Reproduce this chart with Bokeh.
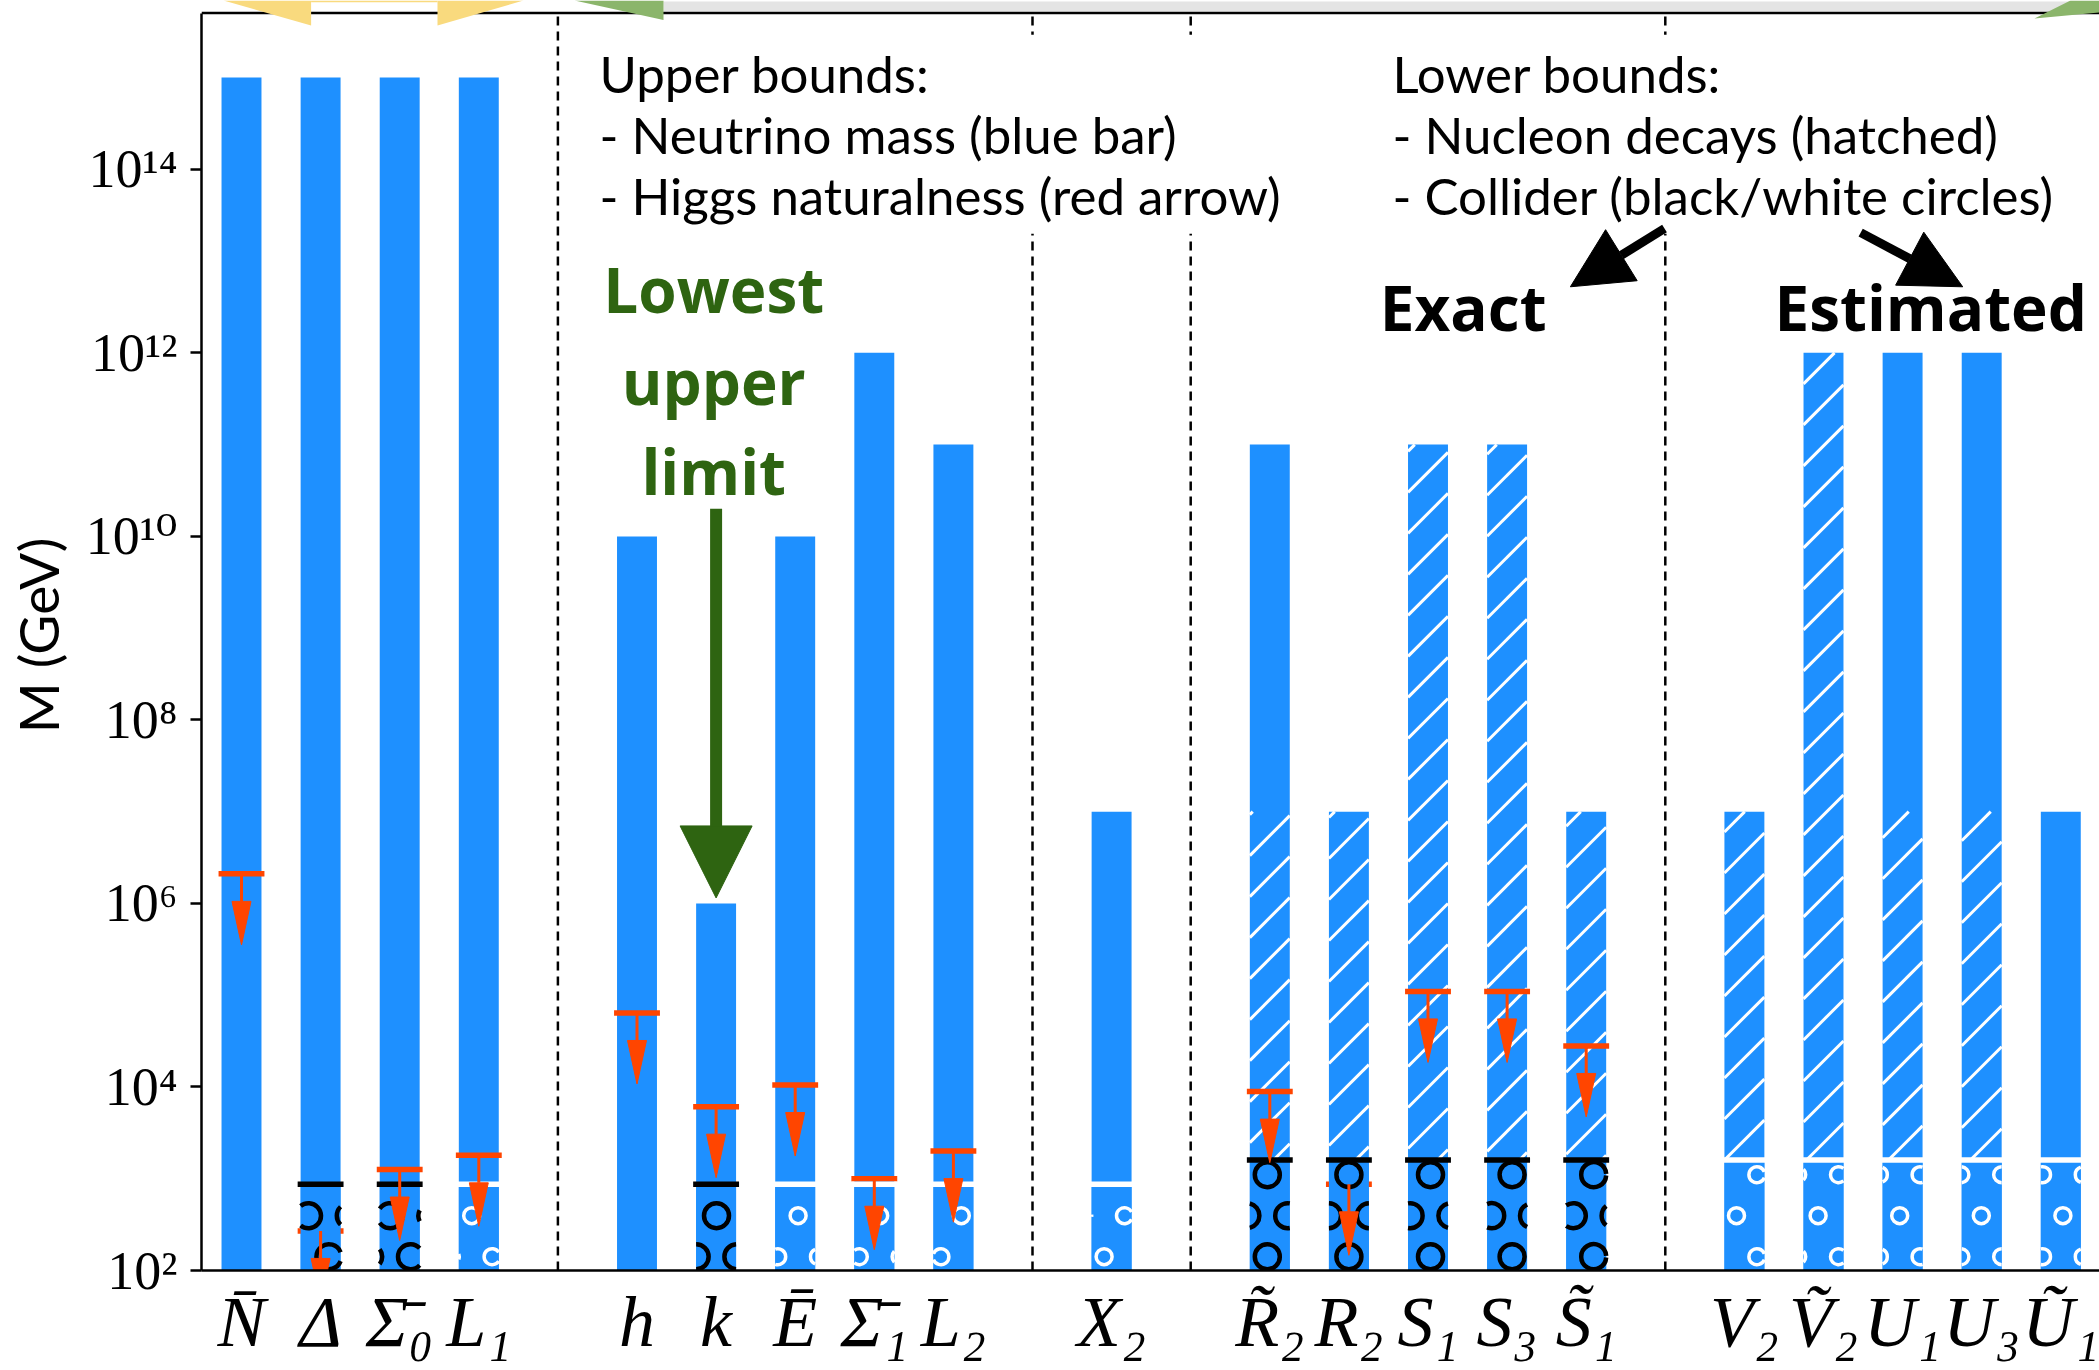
import math
from bokeh.plotting import figure
from bokeh.models import (Range1d, FixedTicker, CustomJSTickFormatter, Label, Arrow,
                          NormalHead, PolyAnnotation, Span, BoxAnnotation)
from bokeh.core.properties import value
from bokeh.embed import file_html
from bokeh.resources import INLINE

# ---------------- data ----------------
labels = ["N\u0304", "\u0394", "\u03A3\u0304\u2080", "L\u2081",
          "h", "k", "E\u0304", "\u03A3\u0304\u2081", "L\u2082",
          "X\u2082",
          "R\u0303\u2082", "R\u2082", "S\u2081", "S\u2083", "S\u0303\u2081",
          "V\u2082", "V\u0303\u2082", "U\u2081", "U\u2083", "U\u0303\u2081"]
positions = [0, 1, 2, 3, 5, 6, 7, 8, 9, 11, 13, 14, 15, 16, 17, 19, 20, 21, 22, 23]
separators = [4, 10, 12, 18]
# neutrino-mass upper bound (blue bar top), GeV
neutrino_bound = [1e15, 1e15, 1e15, 1e15, 1e10, 1e6, 1e10, 1e12, 1e11, 1e7,
                  1e11, 1e7, 1e11, 1e11, 1e7, 1e7, 1e12, 1e12, 1e12, 1e7]
# nucleon-decay lower bound (top of hatched part), GeV
nucleon_bound = [None, None, None, None, None, None, None, None, None, None,
                 1e7, 1e7, 1e11, 1e11, 1e7, 1e7, 1e12, 1e7, 1e7, None]
# collider lower bound, GeV
collider_bound = [None, 870, 870, 870, None, 870, 870, 870, 870, 870,
                  1.6e3, 1.6e3, 1.6e3, 1.6e3, 1.6e3, 1.6e3, 1.6e3, 1.6e3, 1.6e3, 1.6e3]
collider_exact = [False, True, True, False, False, True, False, False, False, False,
                  True, True, True, True, True, False, False, False, False, False]
# Higgs-naturalness upper bound (red arrow), GeV
higgs_bound = [2.1e6, 270, 1.26e3, 1.8e3, 6.4e4, 6.1e3, 1.05e4, 1.0e3, 2.0e3, None,
               8.9e3, 870, 1.1e5, 1.1e5, 2.8e4, None, None, None, None, None]
ytick_values = [1e2, 1e4, 1e6, 1e8, 1e10, 1e12, 1e14]
ytick_labels = ["10\u00b2", "10\u2074", "10\u2076", "10\u2078",
                "10\u00b9\u2070", "10\u00b9\u00b2", "10\u00b9\u2074"]

upper_text = "Upper bounds:\n- Neutrino mass (blue bar)\n- Higgs naturalness (red arrow)"
lower_text = "Lower bounds:\n- Nucleon decays (hatched)\n- Collider (black/white circles)"
hand_green = ["Lowest", "upper", "limit"]
hand_black = ["Exact", "Estimated"]

# ---------------- styling constants ----------------
BLUE = "#1E90FF"
RED = "#FF4500"
GREEN = "#2E6411"
SERIF = "Liberation Serif, DejaVu Serif, serif"
SX = 79.1      # px per x unit
SY = 91.75     # px per decade
X0_PX, Y0_PX = 241.0, 1269.8   # pixel of (x=0, y=1e2)
W, H = 2099, 1370
FRAME_LEFT, FRAME_BOTTOM = 201, 1270
Y_MIN = 1e2
Y_MAX = 10 ** (2 + (Y0_PX - 0) / SY)
Y_SPINE = 10 ** (2 + (Y0_PX - 12.5) / SY)
X_MIN = (FRAME_LEFT - X0_PX) / SX
X_MAX = (W - X0_PX) / SX
BW = 0.505     # bar width
CAP = 0.29     # half width of caps / collider lines
TXT_SHIFT = 0.29   # baseline correction for text glyphs (decades)
n = len(labels)


def ref_px(X, Y):
    """position in picture pixels -> data space (for sketch decorations)"""
    return (X - X0_PX) / SX, 10 ** (2 + (Y0_PX - Y) / SY)


p = figure(width=W, height=H,
           x_range=Range1d(X_MIN, X_MAX), y_range=Range1d(Y_MIN, Y_MAX),
           y_axis_type="log", output_backend="svg", toolbar_location=None,
           min_border_left=FRAME_LEFT, min_border_right=0, min_border_top=0,
           min_border_bottom=H - FRAME_BOTTOM)
p.xgrid.visible = False
p.ygrid.visible = False
p.outline_line_color = None
p.background_fill_color = "white"
p.border_fill_color = "white"

# dashed separators
p.segment(x0=separators, y0=[Y_MIN] * len(separators), x1=separators,
          y1=[Y_SPINE] * len(separators), line_color="black", line_width=2.5, line_dash="9 6")

# blue bars
p.vbar(x=positions, width=BW, bottom=Y_MIN, top=neutrino_bound, fill_color=BLUE, line_color=None)

# hatch (nucleon decays)
HATCH = 41.0
hx0, hy0, hx1, hy1 = [], [], [], []
for i in range(n):
    if nucleon_bound[i] is None:
        continue
    lo = collider_bound[i]
    hi = min(nucleon_bound[i], neutrino_bound[i])
    X0 = (positions[i] - BW / 2) * SX
    X1 = (positions[i] + BW / 2) * SX
    Y0 = math.log10(lo) * SY
    Y1 = math.log10(hi) * SY
    for k in range(int(math.floor((Y0 - X1) / HATCH)), int(math.ceil((Y1 - X0) / HATCH)) + 1):
        c = k * HATCH
        xa = max(X0, Y0 - c)
        xb = min(X1, Y1 - c)
        if xb - xa > 0.5:
            hx0.append(xa / SX); hy0.append(10 ** ((xa + c) / SY))
            hx1.append(xb / SX); hy1.append(10 ** ((xb + c) / SY))
p.segment(x0=hx0, y0=hy0, x1=hx1, y1=hy1, line_color="white", line_width=3.0)

# red caps (drawn beneath the collider part)
ai = [i for i in range(n) if higgs_bound[i] is not None]
ax = [positions[i] for i in ai]
av = [higgs_bound[i] for i in ai]
p.segment(x0=[x - CAP for x in ax], y0=av, x1=[x + CAP for x in ax], y1=av,
          line_color=RED, line_width=5.5)

# collider part of the bars
ci = [i for i in range(n) if collider_bound[i] is not None]
p.vbar(x=[positions[i] for i in ci], width=BW, bottom=Y_MIN,
       top=[collider_bound[i] for i in ci], fill_color=BLUE, line_color=None)

# circle patterns
RING_PITCH = 40.8 / SX


def ring_arcs(xc, top, radius):
    hw = BW / 2 * SX
    line_px = (math.log10(top) - 2) * SY
    out = []
    r = 0
    while True:
        h = 13.8 + 41.0 * r
        if h > line_px - radius + 2:
            break
        yv = 10 ** (2 + h / SY)
        shift = 0.5 * RING_PITCH if r % 2 else 0.0
        kc = round((xc - 14 - shift) / RING_PITCH)
        for k in range(kc - 2, kc + 3):
            xr = 14 + shift + k * RING_PITCH
            d = (xr - xc) * SX
            if abs(d) >= hw + radius:
                continue
            if d + radius > hw:
                b = math.acos(max(-1.0, min(1.0, (hw - d) / radius)))
                s, e = b, 2 * math.pi - b
            elif d - radius < -hw:
                a = math.acos(max(-1.0, min(1.0, (-hw - d) / radius)))
                s, e = -a, a
            else:
                s, e = 0.0, 2 * math.pi
            out.append((xr, yv, s, e))
        r += 1
    return out


for exact, rad, col, lw in [(True, 12.5, "black", 4.5), (False, 8.0, "white", 3.5)]:
    xs, ys, ss, es = [], [], [], []
    for i in ci:
        if collider_exact[i] != exact:
            continue
        for (xr, yv, s, e) in ring_arcs(positions[i], collider_bound[i], rad):
            xs.append(xr); ys.append(yv); ss.append(s); es.append(e)
    p.arc(x=xs, y=ys, radius=dict(value=rad, units="screen"), start_angle=ss, end_angle=es,
          line_color=col, line_width=lw)

# collider bound lines (black = exact, white = estimated)
for exact, col in [(True, "black"), (False, "white")]:
    sel = [i for i in ci if collider_exact[i] == exact]
    p.segment(x0=[positions[i] - CAP for i in sel], y0=[collider_bound[i] for i in sel],
              x1=[positions[i] + CAP for i in sel], y1=[collider_bound[i] for i in sel],
              line_color=col, line_width=5.5)

# red arrows
SHAFT = 27.5 / SY
TIP = 71.0 / SY
HEAD_HW = 0.12
base = [v / 10 ** SHAFT for v in av]
tip = [v / 10 ** TIP for v in av]
p.segment(x0=ax, y0=av, x1=ax, y1=base, line_color=RED, line_width=3)
p.patches(xs=[[x - HEAD_HW, x + HEAD_HW, x] for x in ax],
          ys=[[b, b, t] for b, t in zip(base, tip)], fill_color=RED, line_color=RED, line_width=1)

# axes
yax = p.yaxis[0]
yax.bounds = (Y_MIN, Y_SPINE)
yax.ticker = FixedTicker(ticks=ytick_values, minor_ticks=[])
yax.formatter = CustomJSTickFormatter(args=dict(vals=ytick_values, labs=ytick_labels), code="""
for (let i = 0; i < vals.length; i++) {
  if (Math.abs(Math.log10(vals[i]) - Math.log10(tick)) < 1e-6) { return labs[i]; }
}
return "";
""")
yax.major_label_text_font = SERIF
yax.major_label_text_font_size = "54px"
yax.major_label_text_color = "black"
yax.major_tick_in = 0
yax.major_tick_out = 11
yax.major_tick_line_width = 2.5
yax.minor_tick_line_color = None
yax.axis_line_width = 2.5
yax.major_label_standoff = 13
yax.axis_label = "M (GeV)"
yax.axis_label_text_font = "Lato"
yax.axis_label_text_font_style = "normal"
yax.axis_label_text_font_size = "55px"
yax.axis_label_text_color = "black"
yax.axis_label_standoff = 12

xax = p.xaxis[0]
xax.ticker = FixedTicker(ticks=positions, minor_ticks=[])
xax.formatter = CustomJSTickFormatter(args=dict(pos=positions, labs=labels), code="""
const i = pos.indexOf(Math.round(tick));
return i < 0 ? "" : labs[i];
""")
xax.major_tick_line_color = None
xax.minor_tick_line_color = None
xax.axis_line_width = 2.5
xax.major_label_text_font = SERIF
xax.major_label_text_font_style = "italic"
xax.major_label_text_font_size = "72px"
xax.major_label_text_color = "black"
xax.major_label_standoff = 5

# top spine and the grey shadow above it
sx0, sy0 = ref_px(663, 11)
sx1, sy1 = ref_px(W, 1)
p.add_layout(BoxAnnotation(left=sx0, right=sx1, bottom=sy0, top=sy1, fill_color="#e4e4e4",
                           fill_alpha=1.0, line_color=None))
p.add_layout(Span(location=Y_SPINE, dimension="width", line_color="black", line_width=2.5))

# explanatory text boxes
for tx, txt in [(4.425, upper_text), (14.45, lower_text)]:
    p.add_layout(Label(x=tx, y=10 ** 15.467, text=txt, text_font="Lato", text_font_size="51px",
                       text_align="left", text_baseline="top", text_line_height=1.0,
                       text_color="black", background_fill_color="white", padding=8))

# hand-written notes
p.text(x=[5.97] * 3, y=[10 ** (12.406 + TXT_SHIFT), 10 ** (11.403 + TXT_SHIFT), 10 ** (10.422 + TXT_SHIFT)],
       text=hand_green, text_font=value("Open Sans"), text_font_style="bold", text_font_size="62px",
       text_color=GREEN, text_align="center", text_baseline="alphabetic")
p.text(x=[14.39, 19.38], y=[10 ** (12.21 + TXT_SHIFT)] * 2, text=hand_black,
       text_font=value("Open Sans"), text_font_style="bold", text_font_size="62px",
       text_color="black", text_align="left", text_baseline="alphabetic")

k_idx = labels.index("k")
p.add_layout(Arrow(x_start=positions[k_idx], y_start=10 ** 10.30,
                   x_end=positions[k_idx], y_end=neutrino_bound[k_idx] * 10 ** 0.06,
                   line_color=GREEN, line_width=12,
                   end=NormalHead(size=72, fill_color=GREEN, line_color=GREEN)))
p.add_layout(Arrow(x_start=17.99, y_start=10 ** 13.355, x_end=16.80, y_end=10 ** 12.72,
                   line_color="black", line_width=9,
                   end=NormalHead(size=60, fill_color="black", line_color="black")))
p.add_layout(Arrow(x_start=20.47, y_start=10 ** 13.31, x_end=21.76, y_end=10 ** 12.72,
                   line_color="black", line_width=9,
                   end=NormalHead(size=60, fill_color="black", line_color="black")))


# sketch arrows cut at the top edge of the picture
def poly(pts, color):
    xs, ys = zip(*[ref_px(X, Y) for X, Y in pts])
    p.add_layout(PolyAnnotation(xs=list(xs), ys=list(ys), fill_color=color, fill_alpha=1.0,
                                line_color=None))


poly([(223, 0), (310.6, 0), (310.6, 25)], "#F9DA7E")
poly([(437, 0), (523, 0), (437, 25)], "#F9DA7E")
poly([(310.6, 0), (437, 0), (437, 1.8), (310.6, 1.8)], "#F9DA7E")
poly([(574, 0), (663, 0), (663, 19.5)], "#8BB56B")
poly([(2034, 18), (2070, 0), (W, 0), (W, 12)], "#8BB56B")

open("out.html", "w").write(file_html(p, INLINE))
